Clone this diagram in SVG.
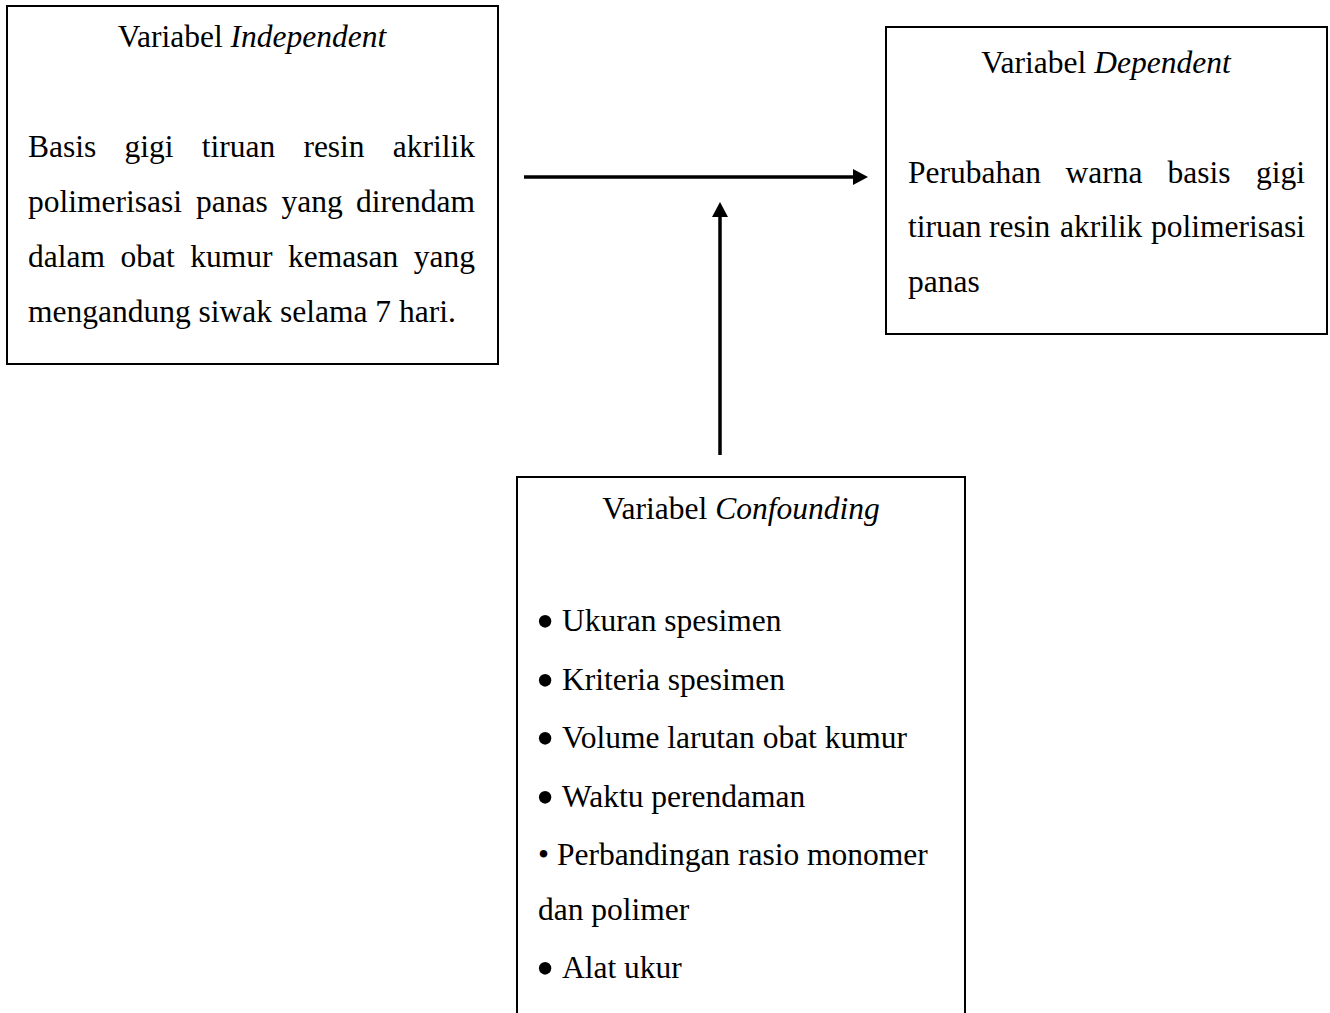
<svg xmlns="http://www.w3.org/2000/svg" width="1330" height="1013" viewBox="0 0 1330 1013">
  <defs>
    <style>
      .box { fill: #ffffff; stroke: #000000; stroke-width: 2; }
      .t { font-family: "Liberation Serif", "Times New Roman", serif; font-size: 31.5px; fill: #000000; }
      .i { font-style: italic; }
      .bul { font-family: "Liberation Serif", "Times New Roman", serif; font-size: 52px; fill: #000000; }
      .conn { stroke: #000000; stroke-width: 3.5; fill: none; }
    </style>
    <marker id="arrow" markerUnits="userSpaceOnUse" markerWidth="16" markerHeight="16" refX="1" refY="8" orient="auto">
      <path d="M0,0 L15,8 L0,16 Z" fill="#000000"/>
    </marker>
  </defs>
  <rect x="0" y="0" width="1330" height="1013" fill="#ffffff"/>

  <g id="connectors">
    <line class="conn" x1="524" y1="177" x2="854" y2="177" marker-end="url(#arrow)"/>
    <line class="conn" x1="720" y1="455" x2="720" y2="216" marker-end="url(#arrow)"/>
  </g>

  <g id="node-independent">
    <rect class="box" x="7" y="6" width="491" height="358"/>
    <text class="t" x="252" y="47" text-anchor="middle">Variabel <tspan class="i">Independent</tspan></text>
    <text class="t" y="157"><tspan x="28">Basis</tspan><tspan x="124.5">gigi</tspan><tspan x="201.7">tiruan</tspan><tspan x="303.4">resin</tspan><tspan x="475" text-anchor="end">akrilik</tspan></text>
    <text class="t" y="212"><tspan x="28">polimerisasi</tspan><tspan x="196">panas</tspan><tspan x="281.5">yang</tspan><tspan x="475" text-anchor="end">direndam</tspan></text>
    <text class="t" y="267"><tspan x="28">dalam</tspan><tspan x="120.6">obat</tspan><tspan x="190.3">kumur</tspan><tspan x="288">kemasan</tspan><tspan x="475" text-anchor="end">yang</tspan></text>
    <text class="t" x="28" y="322">mengandung siwak selama 7 hari.</text>
  </g>

  <g id="node-dependent">
    <rect class="box" x="886" y="27" width="441" height="307"/>
    <text class="t" x="1106" y="73" text-anchor="middle">Variabel <tspan class="i">Dependent</tspan></text>
    <text class="t" y="183"><tspan x="908">Perubahan</tspan><tspan x="1065.5">warna</tspan><tspan x="1167.5">basis</tspan><tspan x="1305" text-anchor="end">gigi</tspan></text>
    <text class="t" y="237"><tspan x="908">tiruan</tspan><tspan x="989">resin</tspan><tspan x="1060">akrilik</tspan><tspan x="1305" text-anchor="end">polimerisasi</tspan></text>
    <text class="t" x="908" y="292">panas</text>
  </g>

  <g id="node-confounding">
    <rect class="box" x="517" y="477" width="448" height="560"/>
    <text class="t" x="741" y="519" text-anchor="middle">Variabel <tspan class="i">Confounding</tspan></text>
    <text class="bul" x="545" y="639" text-anchor="middle">•</text>
    <text class="t" x="562" y="631">Ukuran spesimen</text>
    <text class="bul" x="545" y="698" text-anchor="middle">•</text>
    <text class="t" x="562" y="690">Kriteria spesimen</text>
    <text class="bul" x="545" y="756" text-anchor="middle">•</text>
    <text class="t" x="562" y="748">Volume larutan obat kumur</text>
    <text class="bul" x="545" y="815" text-anchor="middle">•</text>
    <text class="t" x="562" y="807">Waktu perendaman</text>
    <text class="t" x="538" y="865">• Perbandingan rasio monomer</text>
    <text class="t" x="538" y="920">dan polimer</text>
    <text class="bul" x="545" y="986" text-anchor="middle">•</text>
    <text class="t" x="562" y="978">Alat ukur</text>
  </g>
</svg>
